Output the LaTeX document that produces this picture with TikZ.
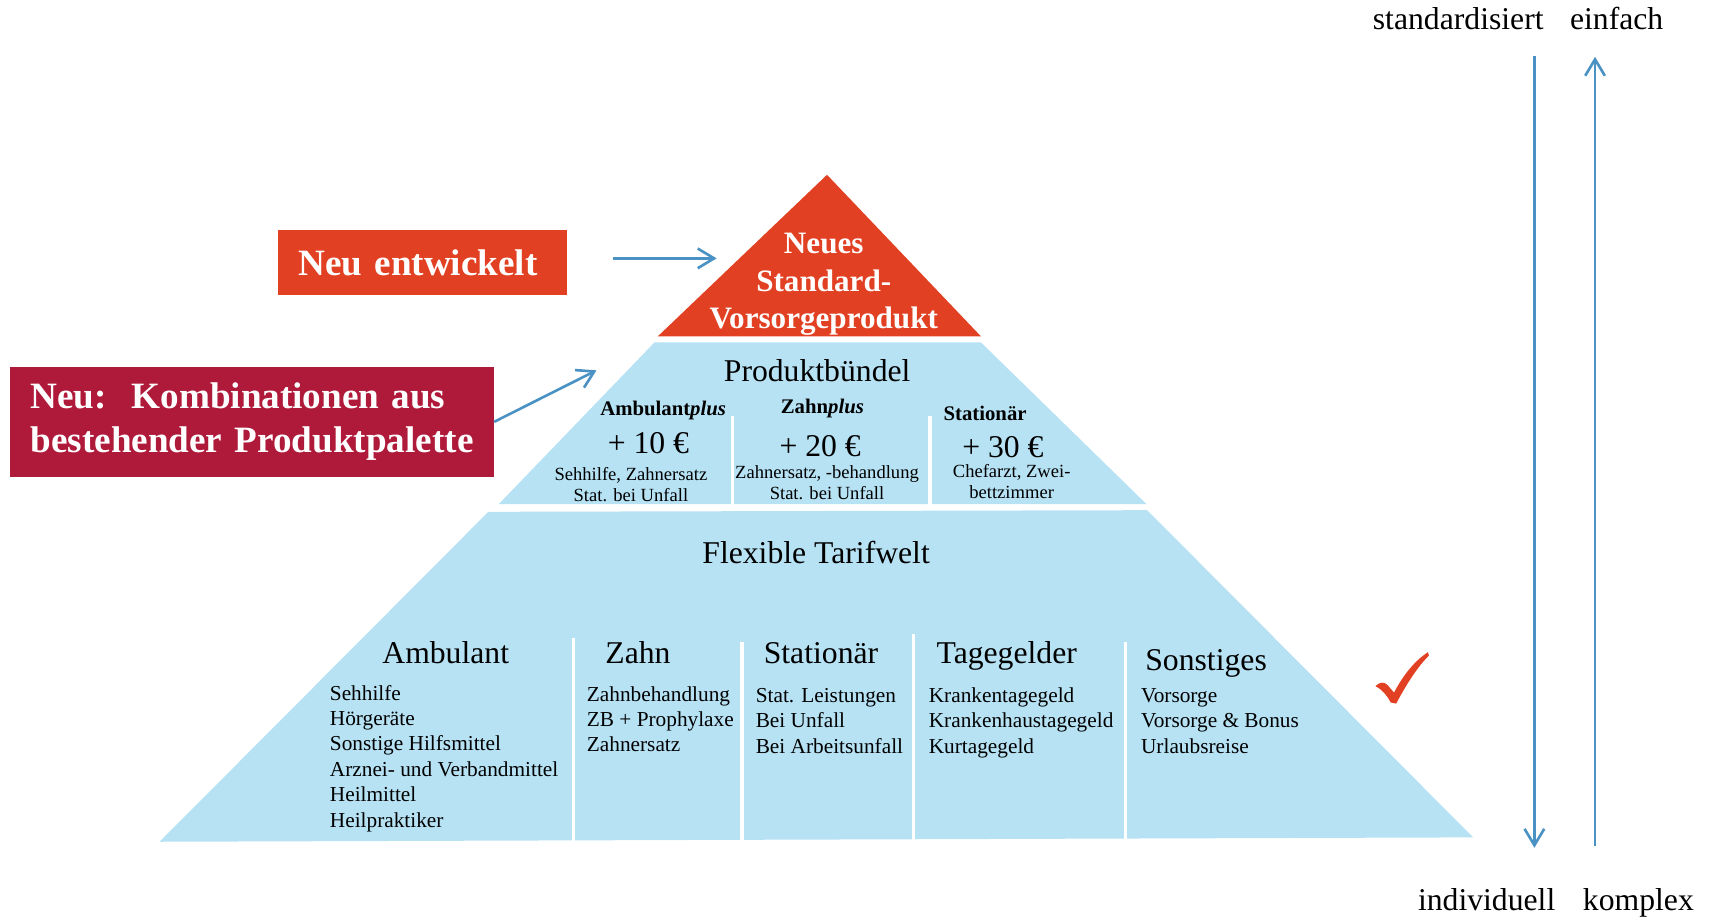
\documentclass[tikz,border=0pt]{standalone}
\usepackage{fontspec}
\setmainfont{Liberation Serif}
\usetikzlibrary{arrows.meta}
\definecolor{pyrblue}{RGB}{182,226,244}
\definecolor{topred}{RGB}{226,64,34}
\definecolor{crimson}{RGB}{176,26,58}
\definecolor{arrblue}{RGB}{74,146,196}
\newcommand\myfs[2]{\fontsize{#1}{#2}\selectfont}
\newcommand\mystack[2]{\begin{tabular}[t]{@{}#1@{}}#2\end{tabular}}
\begin{document}
\begin{tikzpicture}[x=1pt,y=-1pt,
  txt/.style={inner sep=0pt, outer sep=0pt, anchor=base},
  lefttxt/.style={inner sep=0pt, outer sep=0pt, anchor=base west},
  bigtxt/.style={txt, font=\myfs{29}{35}},
  headtxt/.style={txt, font=\bfseries\myfs{19}{23}},
  euro/.style={txt, font=\myfs{29}{35}},
  smalltxt/.style={txt, font=\myfs{17}{19.6}},
  listtxt/.style={lefttxt, font=\myfs{19.5}{23.3}},
  sidetxt/.style={txt, font=\myfs{29}{35}},
  arr/.style={draw=arrblue, line width=2.4pt, -{Straight Barb[length=15pt,width=18pt]}},
  divider/.style={draw=white, line width=3pt},
  labelbox/.style={text=white, font=\bfseries\myfs{34}{40.6}, inner ysep=0pt, outer sep=0pt, anchor=west, align=left}
]
\useasboundingbox (0,0) rectangle (1568,840);

% pyramid
\fill[topred] (757,160) -- (898,308) -- (602,308) -- cycle;
\fill[pyrblue] (599,313.5) -- (898,313.5) -- (1049.5,461.5) -- (456.5,461.5) -- cycle;
\fill[pyrblue] (447,468.5) -- (1050,467) -- (1348.5,766.5) -- (146,770.5) -- cycle;

% dividers
\draw[divider] (670.6,380.5) -- (670.6,462);
\draw[divider] (851.3,380.5) -- (851.3,462);
\draw[divider] (525,584) -- (525,771);
\draw[divider] (679.2,588) -- (679.2,771);
\draw[divider] (836,580.6) -- (836,771);
\draw[divider] (1030.4,588) -- (1030.4,771);

% top
\node[txt, text=white, font=\bfseries\myfs{28.5}{34.5}] (top) at (754,232)
  {\mystack{c}{Neues\\Standard-\\Vorsorgeprodukt}};

% middle
\node[bigtxt] (pb) at (748,349.5) {Produktbündel};
\node[headtxt] (ap) at (607,380) {Ambulant\textit{plus}};
\node[headtxt] (zp) at (752.8,378.3) {Zahn\textit{plus}};
\node[headtxt] (sp) at (901.7,384.5) {Stationär};
\node[euro] (e10) at (593.5,415) {+ 10 €};
\node[euro] (e20) at (750.7,417.4) {+ 20 €};
\node[euro] (e30) at (918,418.6) {+ 30 €};
\node[smalltxt] (d10) at (577.5,439.4) {\mystack{c}{Sehhilfe, Zahnersatz\\Stat. bei Unfall}};
\node[smalltxt] (d20) at (757,437.8) {\mystack{c}{Zahnersatz, -behandlung\\Stat. bei Unfall}};
\node[smalltxt] (d30) at (926,436.9) {\mystack{c}{Chefarzt, Zwei-\\bettzimmer}};

% lower
\node[bigtxt] (ft) at (747,515.6) {Flexible Tarifwelt};
\node[bigtxt] (h1) at (408,607) {Ambulant};
\node[bigtxt] (h2) at (584,607) {Zahn};
\node[bigtxt] (h3) at (751.5,607) {Stationär};
\node[bigtxt] (h4) at (921.5,607) {Tagegelder};
\node[bigtxt] (h5) at (1104,614) {Sonstiges};
\node[listtxt] (l1) at (302,640.8) {\mystack{l}{Sehhilfe\\Hörgeräte\\Sonstige Hilfsmittel\\Arznei- und Verbandmittel\\Heilmittel\\Heilpraktiker}};
\node[listtxt] (l2) at (537.2,641.7) {\mystack{l}{Zahnbehandlung\\ZB + Prophylaxe\\Zahnersatz}};
\node[listtxt] (l3) at (691.8,643) {\mystack{l}{Stat. Leistungen\\Bei Unfall\\Bei Arbeitsunfall}};
\node[listtxt] (l4) at (850.2,643) {\mystack{l}{Krankentagegeld\\Krankenhaustagegeld\\Kurtagegeld}};
\node[listtxt] (l5) at (1044.5,643) {\mystack{l}{Vorsorge\\Vorsorge \& Bonus\\Urlaubsreise}};

% check mark
\fill[topred] (1259,628) .. controls (1263,624) and (1267,624) .. (1270,627)
  -- (1276,634) .. controls (1285,617) and (1295,605) .. (1307,597)
  -- (1308,600) .. controls (1297,611) and (1287,627) .. (1278,644)
  -- (1273,643) .. controls (1270,637) and (1265,631) .. cycle;

% left boxes
\node[labelbox, fill=topred, inner xsep=18.5pt, text width=227.5pt, minimum height=59.5pt] (neu) at (254.5,240.3) {Neu entwickelt};
\node[labelbox, fill=crimson, inner xsep=18.7pt, text width=405.7pt, minimum height=100.3pt] (komb) at (9.3,386.1) {Neu:\ \ Kombinationen aus\\bestehender Produktpalette};

\coordinate (a1s) at (561,236.5);
\coordinate (a1e) at (656,236.5);
\coordinate (a2e) at (546,339);
\draw[arr] (a1s) -- (a1e);
\draw[arr] (komb.east) -- (a2e);

% side arrows and labels
\node[sidetxt] (std) at (1334.8,26.8) {standardisiert};
\node[sidetxt] (einf) at (1479.8,26.8) {einfach};
\node[sidetxt] (indiv) at (1360.8,833) {individuell};
\node[sidetxt] (kompl) at (1499.7,833) {komplex};
\coordinate (dtop) at (1404.5,51);
\coordinate (dbot) at (1404.5,776);
\coordinate (ubot) at (1460,774.5);
\coordinate (utop) at (1460,52);
\draw[arr] (dtop) -- (dbot);
\draw[arr] (ubot) -- (utop);
\end{tikzpicture}
\end{document}
